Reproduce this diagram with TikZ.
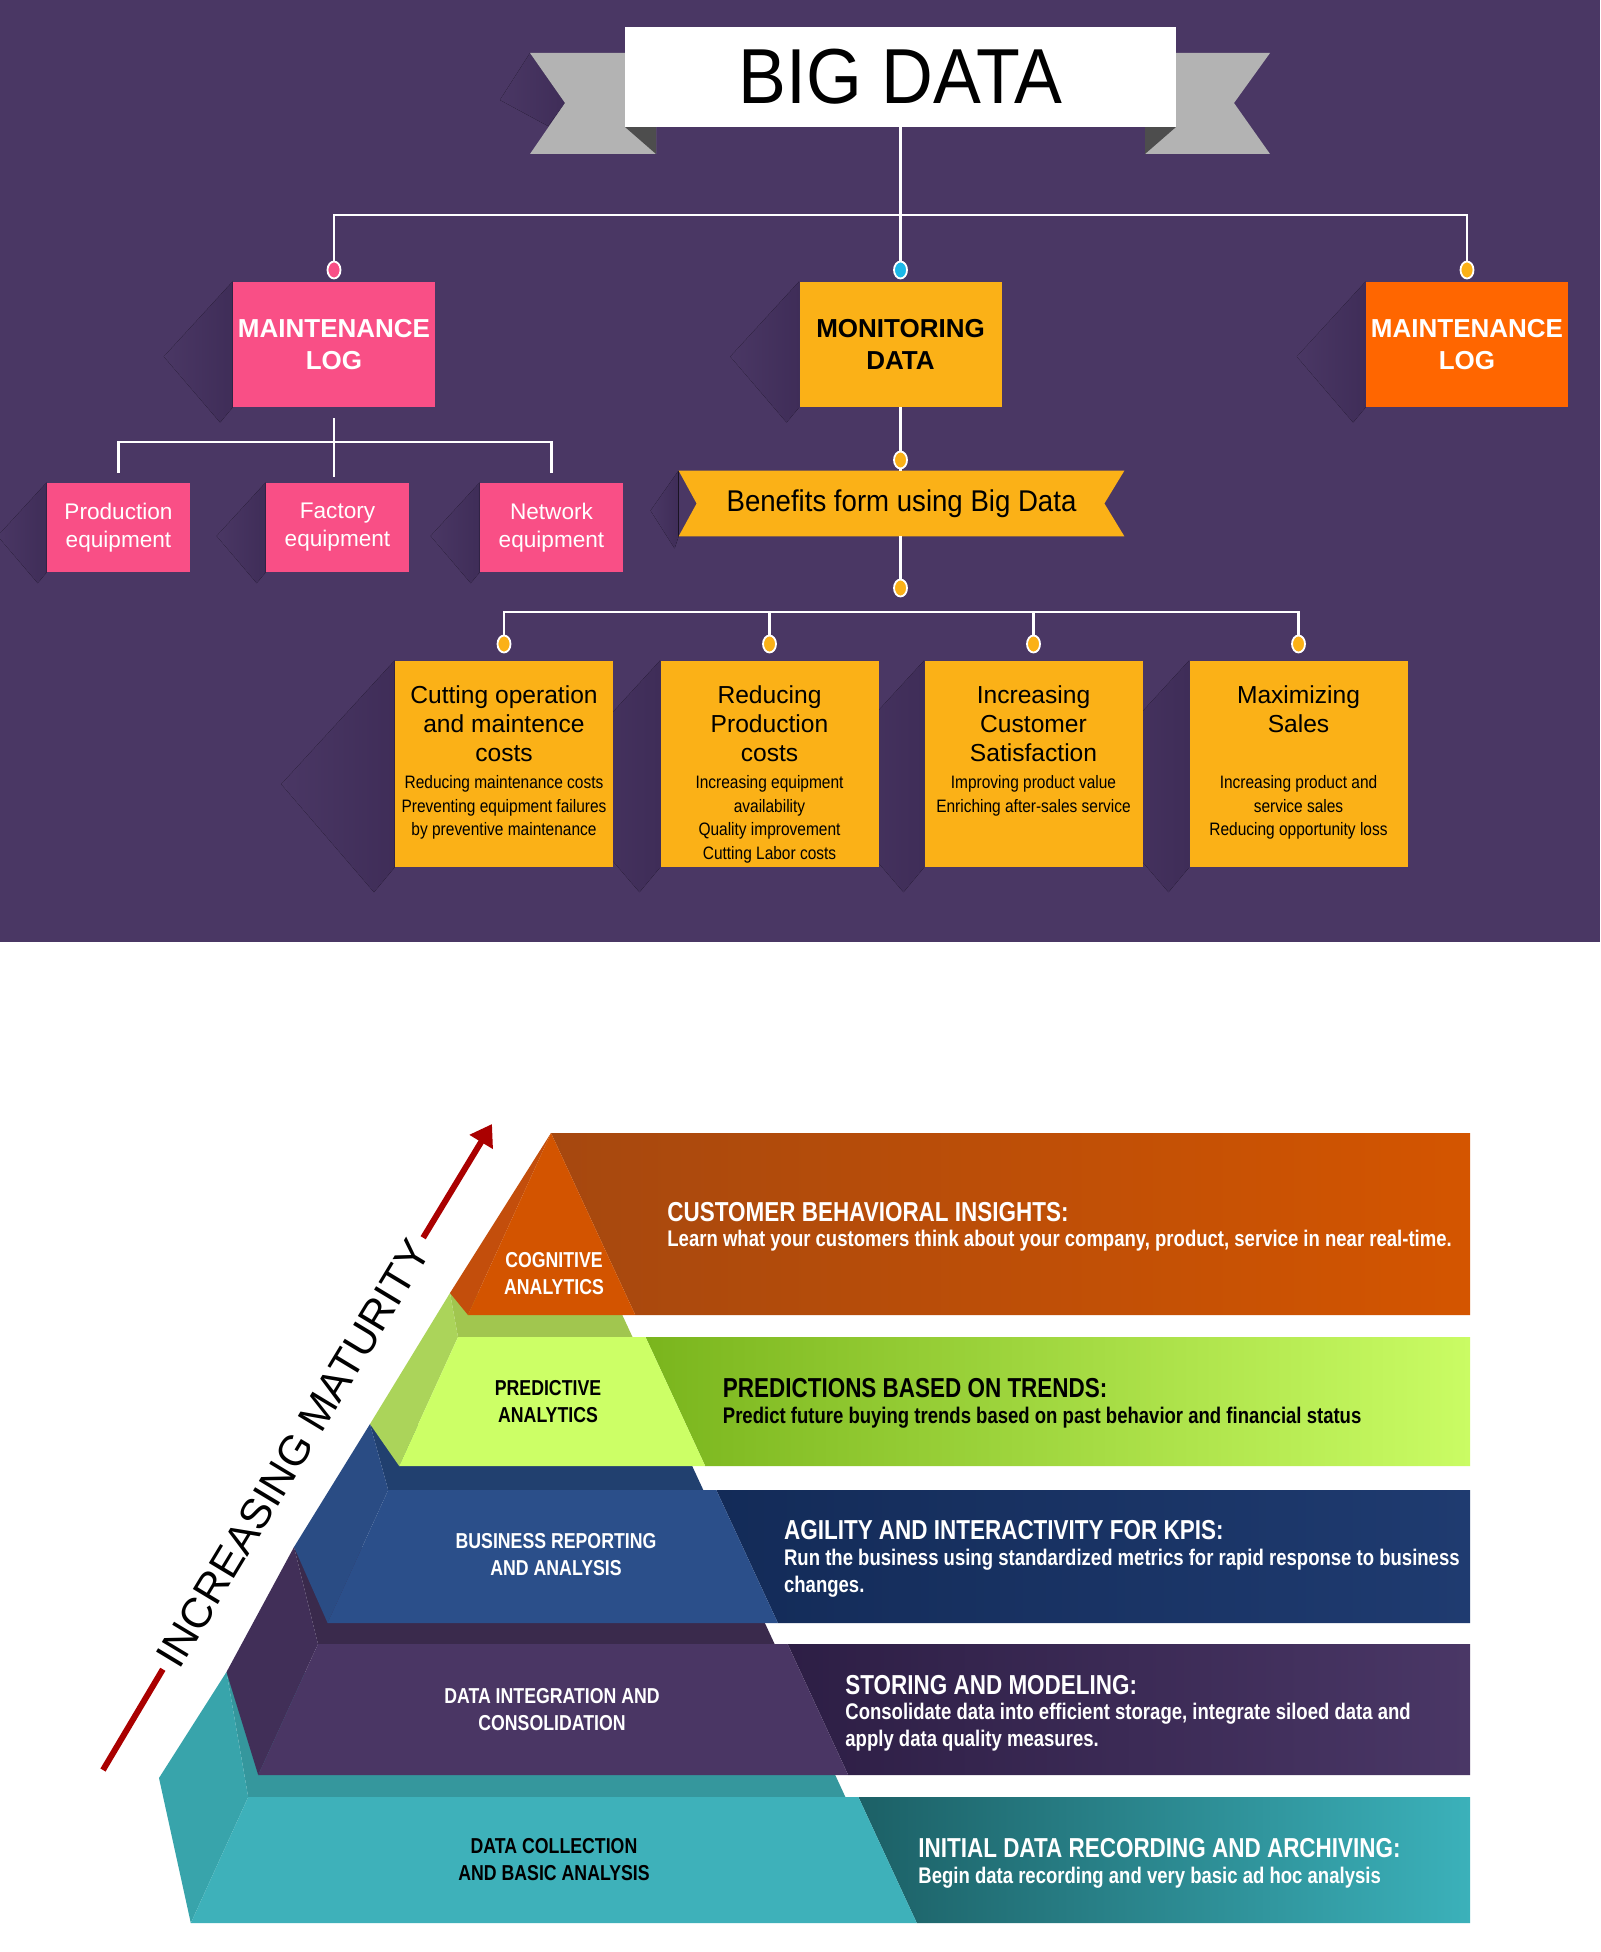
\documentclass[tikz,border=0pt]{standalone}
\usepackage{fontspec}
\setmainfont{Liberation Sans}
\newfontfamily\bannerfont[FakeStretch=0.92]{Liberation Sans}
\newfontfamily\slimfont[FakeStretch=0.86]{Liberation Sans}
\newfontfamily\tightfont[FakeStretch=0.82]{Liberation Sans}
\usetikzlibrary{positioning,
                calc,
                arrows.meta,
                shapes.geometric,
                backgrounds}
\definecolor{bgpurple}{HTML}{4A3764}
\definecolor{shadowpurple}{HTML}{3F2D58}
\definecolor{pinkbox}{HTML}{F94F86}
\definecolor{amberbox}{HTML}{FBB117}
\definecolor{orangebox}{HTML}{FF6600}
\definecolor{knobcyan}{HTML}{1CB8E8}
\definecolor{ribbongray}{HTML}{B3B3B3}
\definecolor{folddark}{HTML}{4D4D4D}
\definecolor{arrowred}{HTML}{AA0000}
% pyramid tiers
\definecolor{cogfront}{HTML}{D35400}
\definecolor{cogside}{HTML}{C34E0C}
\definecolor{cogbandL}{HTML}{A6480F}
\definecolor{cogbandR}{HTML}{D45500}
\definecolor{predfront}{HTML}{CCFF66}
\definecolor{predside}{HTML}{ABD45A}
\definecolor{predtop}{HTML}{A1C64F}
\definecolor{predbandL}{HTML}{7AB51D}
\definecolor{predbandR}{HTML}{CAFC64}
\definecolor{busfront}{HTML}{2B4F8A}
\definecolor{busside}{HTML}{2A4C84}
\definecolor{bustop}{HTML}{21406F}
\definecolor{busbandL}{HTML}{132B58}
\definecolor{busbandR}{HTML}{1F3B70}
\definecolor{intfront}{HTML}{4A3664}
\definecolor{intside}{HTML}{412F58}
\definecolor{inttop}{HTML}{3A2A4C}
\definecolor{intbandL}{HTML}{2D1E45}
\definecolor{intbandR}{HTML}{4A3766}
\definecolor{colfront}{HTML}{3EB1BA}
\definecolor{colside}{HTML}{38A4AB}
\definecolor{coltop}{HTML}{35979D}
\definecolor{colbandL}{HTML}{1C6066}
\definecolor{colbandR}{HTML}{3BB1BA}

\newcommand{\boxshade}[2]{%
  \fill[left color=bgpurple, right color=shadowpurple]
    (#1.north west) -- ++(-0.55*#2,0.6*#2)
    -- ($(#1.south west)+(-0.1*#2,0.12*#2)$) -- (#1.south west) -- cycle;}

\begin{document}
\begin{tikzpicture}[x=0.5pt,y=-0.5pt]  % <-- pixel grid, y downwards

\tikzset{
wire/.style={
draw=white,
line width=1.3pt
},
knob/.style={
ellipse,
draw=white,
line width=0.9pt,
minimum width=6.5pt,
minimum height=8.5pt,
inner sep=0pt
},
headbox/.style={
minimum width=101pt,
minimum height=62.5pt,
inner sep=0pt,
align=center,
font=\fontsize{13}{16}\selectfont\bfseries
},
gearbox/.style={
fill=pinkbox,
text=white,
minimum width=71.5pt,
minimum height=44.5pt,
inner sep=0pt,
align=center,
font=\fontsize{11.3}{14}\selectfont
},
gainbox/.style={
fill=amberbox,
minimum width=109pt,
minimum height=103pt,
inner sep=0pt
},
gaintitle/.style={
anchor=north,
align=center,
inner sep=0pt,
font=\fontsize{12.3}{14.5}\selectfont
},
gainnote/.style={
anchor=north,
align=center,
inner sep=0pt,
font=\slimfont\fontsize{9}{11.75}\selectfont
},
tierlabel/.style={
align=center,
inner sep=0pt,
font=\tightfont\bfseries\fontsize{10.8}{13.5}\selectfont
},
tierhead/.style={
anchor=west,
inner sep=0pt,
font=\tightfont\bfseries\fontsize{13.7}{16}\selectfont
},
tiernote/.style={
anchor=north west,
align=left,
inner sep=0pt,
font=\tightfont\bfseries\fontsize{11.3}{13.3}\selectfont
},
rise/.style={
draw=arrowred,
line width=3pt
}
}

\useasboundingbox (0,0) rectangle (1600,1952);

%----------------------------------
% BIG DATA BANNER
%----------------------------------

\node[fill=white,minimum width=275.5pt,minimum height=50pt,inner sep=0pt,
      font=\bannerfont\fontsize{39}{39}\selectfont] (bigdata) at (900.5,77) {BIG DATA};

%----------------------------------
% FIRST LEVEL
%----------------------------------

\node[headbox,fill=pinkbox,text=white] (logleft) at (334,344.5) {MAINTENANCE\\LOG};
\node[headbox,fill=amberbox] (monitor) at (900.5,344.5) {MONITORING\\DATA};
\node[headbox,fill=orangebox,text=white] (logright) at (1467,344.5) {MAINTENANCE\\LOG};

\node[knob,fill=pinkbox] (knobL) at (334,270) {};
\node[knob,fill=knobcyan] (knobM) at (900.5,270) {};
\node[knob,fill=amberbox] (knobR) at (1467,270) {};
\coordinate (trunk) at (900.5,215);

\draw[wire] (bigdata.south) -- (knobM.north);
\draw[wire] (knobL.north) -- (knobL.north |- trunk) -- (knobR.north |- trunk) -- (knobR.north);

%----------------------------------
% EQUIPMENT
%----------------------------------

\node[gearbox] (prod) at (118.5,527.5) {Production\\equipment};
\node[gearbox] (factory) at (337.5,527.5) {Factory\\equipment};
\node[gearbox] (network) at (551.5,527.5) {Network\\equipment};

\coordinate (gearbar) at (334,442);
\coordinate (gearstem) at (334,477);
\draw[wire] ([yshift=-5.5pt]logleft.south) -- (gearstem);
\draw[wire] ([yshift=5pt]prod.north) |- (gearbar) -| ([yshift=5pt]network.north);

%----------------------------------
% BENEFITS
%----------------------------------

\node[knob,fill=amberbox] (knobB) at (900.5,460) {};
\node[minimum width=222.5pt,minimum height=32.5pt,inner sep=0pt,
      font=\bannerfont\fontsize{15}{15}\selectfont] (benefits) at (901.5,503.5) {Benefits form using Big Data};
\node[knob,fill=amberbox] (knobC) at (900.5,588) {};

\draw[wire] (monitor.south) -- (knobB.north);
\draw[wire] (knobB.south) -- (knobB.south |- benefits.north);
\draw[wire] (knobB.south |- benefits.south) -- (knobC.north);

\node[gainbox] (cut) at (504,764) {};
\node[gainbox] (reduce) at (769.5,764) {};
\node[gainbox] (satisfy) at (1033.5,764) {};
\node[gainbox] (maxsales) at (1298.5,764) {};

\node[knob,fill=amberbox] (knobG1) at (504,644) {};
\node[knob,fill=amberbox] (knobG2) at (769.5,644) {};
\node[knob,fill=amberbox] (knobG3) at (1033.5,644) {};
\node[knob,fill=amberbox] (knobG4) at (1298.5,644) {};

\coordinate (gainbar) at (900.5,612);
\draw[wire] (knobG1.north) |- (gainbar) -| (knobG4.north);
\draw[wire] (knobG2.north) -- (knobG2.north |- gainbar);
\draw[wire] (knobG3.north) -- (knobG3.north |- gainbar);

\node[gaintitle] (cut-t) at ([yshift=-12.5pt]cut.north) {Cutting operation\\and maintence\\costs};
\node[gainnote] (cut-n) at ([yshift=-57.25pt]cut.north) {Reducing maintenance costs\\Preventing equipment failures\\by preventive maintenance};

\node[gaintitle] (reduce-t) at ([yshift=-12.5pt]reduce.north) {Reducing\\Production\\costs};
\node[gainnote] (reduce-n) at ([yshift=-57.25pt]reduce.north) {Increasing equipment\\availability\\Quality improvement\\Cutting Labor costs};

\node[gaintitle] (satisfy-t) at ([yshift=-12.5pt]satisfy.north) {Increasing\\Customer\\Satisfaction};
\node[gainnote] (satisfy-n) at ([yshift=-57.25pt]satisfy.north) {Improving product value\\Enriching after-sales service};

\node[gaintitle] (maxsales-t) at ([yshift=-12.5pt]maxsales.north) {Maximizing\\Sales};
\node[gainnote] (maxsales-n) at ([yshift=-57.25pt]maxsales.north) {Increasing product and\\service sales\\Reducing opportunity loss};

%----------------------------------
% BACKDROP, RIBBONS AND SHADOWS
%----------------------------------

\begin{scope}[on background layer]
\fill[white] (0,0) rectangle (1600,1952);
\fill[bgpurple] (0,0) rectangle (1600,942);

\fill[left color=bgpurple,right color=shadowpurple] (530,53) -- (500,100) -- (548,126) -- (565,103) -- cycle;
\fill[ribbongray] (530,53) -- (656,53) -- (656,154) -- (530,154) -- (565,103) -- cycle;
\fill[folddark] (625,127) -- (656,127) -- (656,154) -- cycle;
\fill[ribbongray] (1270,53) -- (1145,53) -- (1145,154) -- (1270,154) -- (1234,103) -- cycle;
\fill[folddark] (1176,127) -- (1145,127) -- (1145,154) -- cycle;

\boxshade{logleft}{125}
\boxshade{monitor}{125}
\boxshade{logright}{125}
\boxshade{prod}{89}
\boxshade{factory}{89}
\boxshade{network}{89}
\boxshade{cut}{206}
\boxshade{reduce}{206}
\boxshade{satisfy}{206}
\boxshade{maxsales}{206}

\fill[left color=bgpurple,right color=shadowpurple] (benefits.north west) -- ++(-28,40)
  -- ($(benefits.south west)+(-4,12)$) -- (benefits.south west) -- cycle;
\fill[amberbox] (benefits.north west) -- (benefits.north east) -- ([xshift=-10pt]benefits.east)
  -- (benefits.south east) -- (benefits.south west) -- ([xshift=9pt]benefits.west) -- cycle;
\end{scope}

%----------------------------------
% PYRAMID (bottom tier first)
%----------------------------------

% data collection
\shade[left color=colbandL,right color=colbandR] (858.4,1797) -- (1470,1797) -- (1470,1923) -- (916.8,1923) -- cycle;
\fill[coltop] (226.5,1672) -- (787.6,1672) -- (845.4,1797) -- (248.2,1797) -- cycle;
\fill[colside] (226.5,1672) -- (159,1778) -- (190.8,1923) -- (248.2,1797) -- cycle;
\fill[colfront] (248.2,1797) -- (858.4,1797) -- (916.8,1923) -- (190.8,1923) -- cycle;

% data integration
\shade[left color=intbandL,right color=intbandR] (787.6,1644) -- (1470,1644) -- (1470,1775) -- (848.2,1775) -- cycle;
\fill[inttop] (294,1547) -- (729.7,1547) -- (774.6,1644) -- (318,1644) -- cycle;
\fill[intside] (294,1547) -- (226.5,1672) -- (258.2,1775) -- (318,1644) -- cycle;
\fill[intfront] (318,1644) -- (787.6,1644) -- (848.2,1775) -- (258.2,1775) -- cycle;

% business reporting
\shade[left color=busbandL,right color=busbandR] (716.3,1490) -- (1470,1490) -- (1470,1623) -- (777.9,1623) -- cycle;
\fill[bustop] (370,1424) -- (672.7,1424) -- (703.3,1490) -- (388.2,1490) -- cycle;
\fill[busside] (370,1424) -- (294,1547) -- (327.6,1623) -- (388.2,1490) -- cycle;
\fill[busfront] (388.2,1490) -- (716.3,1490) -- (777.9,1623) -- (327.6,1623) -- cycle;

% predictive
\shade[left color=predbandL,right color=predbandR] (645.5,1337) -- (1470,1337) -- (1470,1466) -- (705.2,1466) -- cycle;
\fill[predtop] (450,1293) -- (612.1,1293) -- (632.5,1337) -- (458,1337) -- cycle;
\fill[predside] (450,1293) -- (370,1424) -- (399.2,1466) -- (458,1337) -- cycle;
\fill[predfront] (458,1337) -- (645.5,1337) -- (705.2,1466) -- (399.2,1466) -- cycle;

% cognitive
\shade[left color=cogbandL,right color=cogbandR] (551,1133) -- (1470,1133) -- (1470,1315) -- (635.3,1315) -- cycle;
\fill[cogside] (551,1133) -- (450,1293) -- (468,1315) -- cycle;
\fill[cogfront] (551,1133) -- (635.3,1315) -- (468,1315) -- cycle;

%----------------------------------
% PYRAMID LABELS
%----------------------------------

\node[tierlabel,text=white] (cog) at (554,1273.4) {COGNITIVE\\ANALYTICS};
\node[tierlabel] (pred) at (548,1401.5) {PREDICTIVE\\ANALYTICS};
\node[tierlabel,text=white] (busrep) at (556,1555) {BUSINESS REPORTING\\AND ANALYSIS};
\node[tierlabel,text=white] (integ) at (552,1710) {DATA INTEGRATION AND\\CONSOLIDATION};
\node[tierlabel] (collect) at (554,1860) {DATA COLLECTION\\AND BASIC ANALYSIS};

\node[tierhead,text=white] (cog-h) at (667,1211.7) {CUSTOMER BEHAVIORAL INSIGHTS:};
\node[tiernote,text=white] (cog-n) at (667,1230) {Learn what your customers think about your company, product, service in near real-time.};

\node[tierhead] (pred-h) at (722.5,1388) {PREDICTIONS BASED ON TRENDS:};
\node[tiernote] (pred-n) at (722.5,1407) {Predict future buying trends based on past behavior and financial status};

\node[tierhead,text=white] (bus-h) at (783.7,1530) {AGILITY AND INTERACTIVITY FOR KPIS:};
\node[tiernote,text=white] (bus-n) at (783.7,1548.8) {Run the business using standardized metrics for rapid response to business\\changes.};

\node[tierhead,text=white] (int-h) at (845,1685) {STORING AND MODELING:};
\node[tiernote,text=white] (int-n) at (845,1703) {Consolidate data into efficient storage, integrate siloed data and\\apply data quality measures.};

\node[tierhead,text=white] (col-h) at (918,1848) {INITIAL DATA RECORDING AND ARCHIVING:};
\node[tiernote,text=white] (col-n) at (918,1867) {Begin data recording and very basic ad hoc analysis};

%----------------------------------
% MATURITY ARROW
%----------------------------------

\coordinate (riseA) at (103,1770);
\coordinate (riseB) at (492,1124);
\node[rotate=58.9,inner sep=0pt,inner xsep=3.5pt,
      font=\fontsize{21.2}{21.2}\selectfont] (maturity) at (293,1453.5) {INCREASING MATURITY};
\draw[rise] (riseA) -- (maturity.west);
\draw[rise,-{Triangle[length=10.5pt,width=13pt]}] (maturity.east) -- (riseB);

\end{tikzpicture}
\end{document}
